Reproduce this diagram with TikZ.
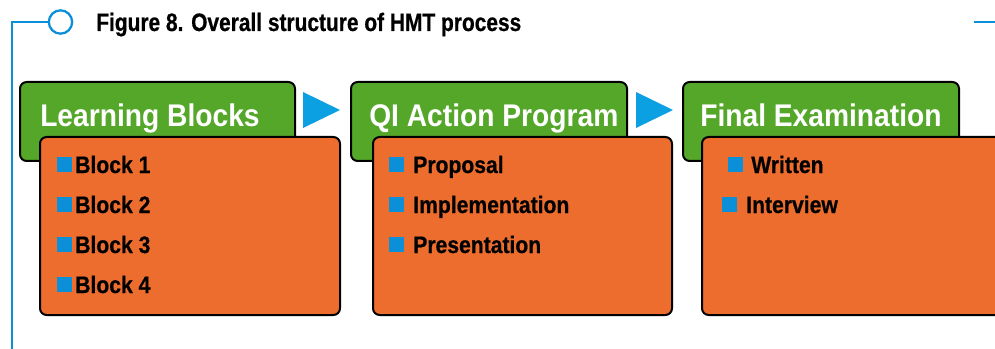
\documentclass[tikz,border=0pt]{standalone}
\usepackage{fontspec}
\setmainfont{Liberation Sans}
\newfontfamily\condhead[FakeStretch=0.90]{Liberation Sans}
\newfontfamily\conditem[FakeStretch=0.89,FakeBold=0.6]{Liberation Sans}
\newfontfamily\condtitle[FakeStretch=0.83,FakeBold=0.6]{Liberation Sans}
\definecolor{hgreen}{HTML}{55A72A}
\definecolor{horange}{HTML}{EC6D2E}
\definecolor{hblue}{HTML}{0A8FD8}
\definecolor{harrow}{HTML}{0AA0E2}
\tikzset{
  blueline/.style={draw=hblue, line width=1.7pt},
  greenbox/.style={draw=black, line width=1.5pt, fill=hgreen, rounded corners=5pt},
  orangebox/.style={draw=black, line width=1.5pt, fill=horange, rounded corners=5pt},
  tri/.style={fill=harrow},
  sq/.style={fill=hblue, inner sep=0pt, minimum size=11.25pt, anchor=south west},
  headtxt/.style={anchor=base west, inner sep=0pt, text=white, font=\condhead\bfseries\fontsize{23.5}{27}\selectfont},
  itemtxt/.style={anchor=base west, inner sep=0pt, text=black, font=\conditem\bfseries\fontsize{17.8}{21}\selectfont},
  titletxt/.style={anchor=base west, inner sep=0pt, text=black, font=\condtitle\bfseries\fontsize{18.9}{22}\selectfont}
}
\begin{document}
\begin{tikzpicture}[x=0.75pt,y=-0.75pt]
\useasboundingbox (0,0) rectangle (995,349);
% frame line
\node[circle, draw=hblue, line width=1.7pt, minimum size=17.5pt, inner sep=0pt] (ring) at (60.5,22) {};
\coordinate (corner) at (12,22);
\coordinate (bottom) at (12,349);
\draw[blueline] (ring.west) -- (corner) -- (bottom);
\coordinate (r1) at (974,22);
\coordinate (r2) at (995,22);
\draw[blueline] (r1) -- (r2);
\node[titletxt] (title) at (96,31) {Figure 8. Overall structure of HMT process};
% column 1
\path[greenbox] (20,82) rectangle (295,161);
\path[orangebox] (40,137) rectangle (340,315);
\node[headtxt] (h1) at (40,127) {Learning Blocks};
\node[sq] (a1) at (57,172) {};
\node[itemtxt] (t1) at (75,173) {Block 1};
\node[sq] (a2) at (57,212) {};
\node[itemtxt] (t2) at (75,213) {Block 2};
\node[sq] (a3) at (57,252) {};
\node[itemtxt] (t3) at (75,253) {Block 3};
\node[sq] (a4) at (57,292) {};
\node[itemtxt] (t4) at (75,293) {Block 4};
% arrow 1
\fill[tri] (303,92) -- (340,110) -- (303,128) -- cycle;
% column 2
\path[greenbox] (351,82) rectangle (627,161);
\path[orangebox] (373,137) rectangle (672,315);
\node[headtxt] (h2) at (369,127) {QI Action Program};
\node[sq] (b1) at (389,172) {};
\node[itemtxt] (u1) at (413,173) {Proposal};
\node[sq] (b2) at (389,212) {};
\node[itemtxt] (u2) at (413,213) {Implementation};
\node[sq] (b3) at (389,252) {};
\node[itemtxt] (u3) at (413,253) {Presentation};
% arrow 2
\fill[tri] (636,92) -- (673,110) -- (636,128) -- cycle;
% column 3
\path[greenbox] (683,82) rectangle (959,161);
\path[orangebox] (702,137) rectangle (1010,315);
\node[headtxt] (h3) at (700,127) {Final Examination};
\node[sq] (c1) at (728,172) {};
\node[itemtxt] (v1) at (751,173) {Written};
\node[sq] (c2) at (722,212) {};
\node[itemtxt] (v2) at (746,213) {Interview};
\end{tikzpicture}
\end{document}
